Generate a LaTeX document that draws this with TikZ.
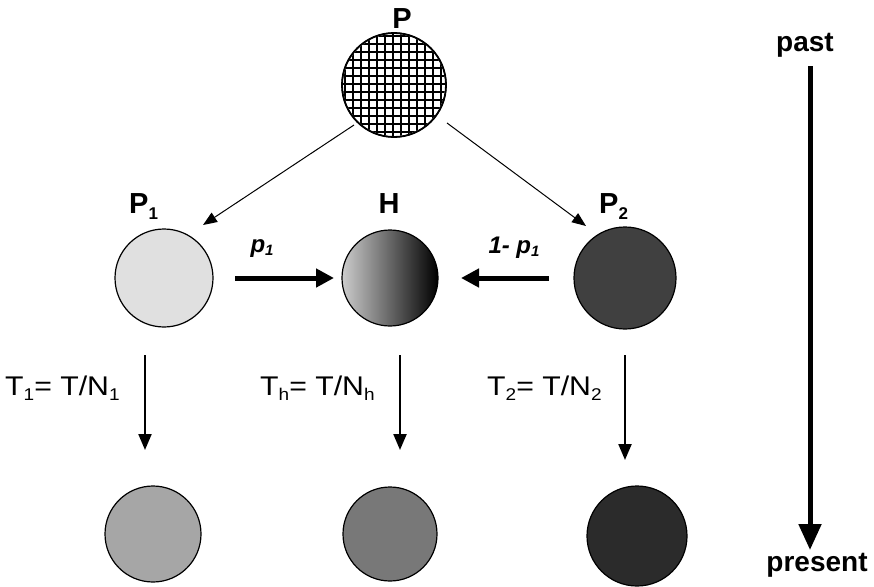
\documentclass[tikz,border=0pt]{standalone}
\usepackage{fontspec}
\setmainfont{Liberation Sans}
\newfontfamily\widefont[FakeStretch=1.12]{Liberation Sans}
\usetikzlibrary{arrows.meta}
\newcommand{\lsub}[2]{\raisebox{-#1}{\fontsize{17}{17}\selectfont #2}}
\begin{document}
\begin{tikzpicture}[x=1pt,y=-1pt,
  ball/.style={circle,draw=black,line width=1.2pt,inner sep=0pt},
  lbl/.style={font=\bfseries\fontsize{29}{32}\selectfont,inner sep=0pt},
  tlbl/.style={font=\widefont\fontsize{27}{30}\selectfont,inner sep=0pt},
  thin/.style={-{Triangle[length=14pt,width=11pt]},line width=1pt},
  fat/.style={-{Triangle[length=18pt,width=18pt]},line width=5pt},
  vert/.style={-{Triangle[length=16pt,width=13pt]},line width=2.2pt}]
\useasboundingbox (0,0) rectangle (874,586);
% top node
\node[ball,minimum size=104pt] (P) at (394,85) {};
\begin{scope}
\clip (394,85) circle (51pt);
\foreach \i in {0,...,14} {
  \draw[line width=2.2pt] (337+\i*8,25) -- (337+\i*8,145);
  \draw[line width=2.2pt] (335,28+\i*8) -- (455,28+\i*8);
}
\end{scope}
\draw[line width=1.8pt] (394,85) circle (52pt);
\node[lbl,anchor=base] (Pl) at (402,29) {P};
% middle row
\node[ball,fill=black!12,minimum size=98pt] (P1) at (164,278) {};
\node[ball,minimum size=96pt,left color=black!20,right color=black,shading angle=90] (H) at (390,278) {};
\node[ball,fill=black!75,minimum size=102pt] (P2) at (625,278) {};
\node[lbl,anchor=base west] (P1l) at (129,213) {P\lsub{6pt}{1}};
\node[lbl,anchor=base] (Hl) at (389,213) {H};
\node[lbl,anchor=base west] (P2l) at (599,213) {P\lsub{6pt}{2}};
% bottom row
\node[ball,fill=black!35,minimum size=96pt] (B1) at (153,534) {};
\node[ball,fill=black!53,minimum size=94pt] (BH) at (390,534) {};
\node[ball,fill=black!83,minimum size=100pt] (B2) at (637,536) {};
% diagonal arrows
\coordinate (d1s) at (354,125); \coordinate (d1e) at (203,225);
\coordinate (d2s) at (447,123); \coordinate (d2e) at (586,226);
\draw[thin] (d1s) -- (d1e);
\draw[thin] (d2s) -- (d2e);
% horizontal arrows
\coordinate (h1s) at (235,278); \coordinate (h1e) at (334,278);
\coordinate (h2s) at (549,278); \coordinate (h2e) at (461,278);
\draw[fat] (h1s) -- (h1e);
\draw[fat] (h2s) -- (h2e);
\node[font=\bfseries\itshape\fontsize{24}{26}\selectfont] (pl) at (262,249) {p\raisebox{-3pt}{\fontsize{15}{15}\selectfont 1}};
\node[font=\bfseries\itshape\fontsize{24}{26}\selectfont] (ql) at (514,248) {1- p\raisebox{-3pt}{\fontsize{15}{15}\selectfont 1}};
% vertical arrows
\coordinate (v1s) at (145,355); \coordinate (v1e) at (145,450);
\coordinate (v2s) at (400,355); \coordinate (v2e) at (400,450);
\coordinate (v3s) at (625,355); \coordinate (v3e) at (625,460);
\draw[vert] (v1s) -- (v1e);
\draw[vert] (v2s) -- (v2e);
\draw[vert] (v3s) -- (v3e);
\node[tlbl,anchor=base west] (t1) at (5,395) {T\lsub{5pt}{1}= T/N\lsub{5pt}{1}};
\node[tlbl,anchor=base west] (th) at (260,395) {T\lsub{5pt}{h}= T/N\lsub{5pt}{h}};
\node[tlbl,anchor=base west] (t2) at (487,395) {T\lsub{5pt}{2}= T/N\lsub{5pt}{2}};
% time axis
\node[font=\bfseries\fontsize{28}{32}\selectfont] (past) at (805,45) {past};
\node[font=\bfseries\fontsize{28}{32}\selectfont] (pres) at (817,565) {present};
\coordinate (ts) at (810,66); \coordinate (te) at (810,550);
\draw[-{Triangle[length=26pt,width=22pt]},line width=5pt] (ts) -- (te);
\end{tikzpicture}
\end{document}
